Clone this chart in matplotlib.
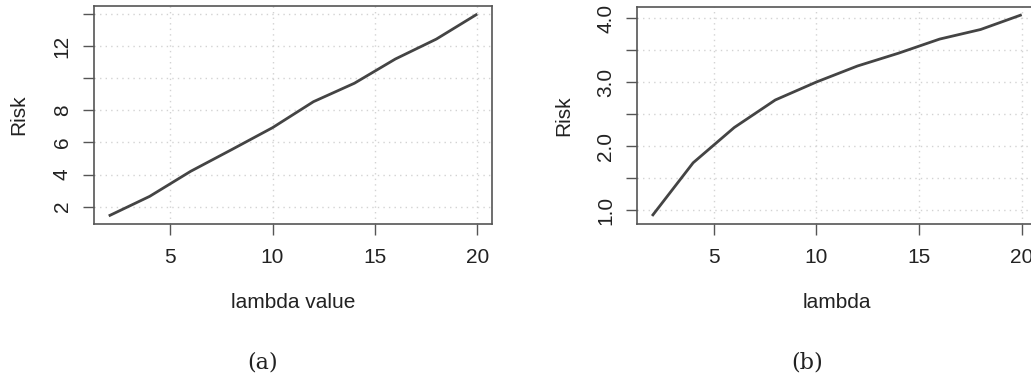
#!/usr/bin/env python3

# two R-style risk curves side by side, (a) and (b) captions below

import numpy as np
import matplotlib
matplotlib.use("Agg")
import matplotlib.pyplot as plt

#-- data
lam = [2, 4, 6, 8, 10, 12, 14, 16, 18, 20]
risk_a = [1.42, 2.64, 4.20, 5.55, 6.92, 8.54, 9.69, 11.20, 12.44, 14.0]
risk_b = [0.91, 1.74, 2.29, 2.72, 3.00, 3.25, 3.45, 3.67, 3.82, 4.05]

xticks = [5, 10, 15, 20]
yticks_a = [2, 4, 6, 8, 10, 12, 14]
ylabels_a = ["2", "4", "6", "8", "", "12", ""]
yticks_b = [1.0, 1.5, 2.0, 2.5, 3.0, 3.5, 4.0]
ylabels_b = ["1.0", "", "2.0", "", "3.0", "", "4.0"]

plt.rcParams['font.family'] = ['Liberation Sans', 'DejaVu Sans']

W, H = 1031, 379
fig = plt.figure(figsize=(W / 100, H / 100), dpi=100)
FS = 15


def r_range(v):
    lo, hi = min(v), max(v)
    d = (hi - lo) * 0.04
    return lo - d, hi + d


def panel(rect, y, yt, yl, xlab, cap, cap_x):
    ax = fig.add_axes(rect)
    ax.plot(lam, y, color="#444444", lw=2.0, solid_capstyle="butt")
    ax.set_xlim(*r_range(lam))
    ax.set_ylim(*r_range(y))
    ax.set_xticks(xticks)
    ax.set_xticklabels([str(t) for t in xticks])
    ax.set_yticks(yt)
    ax.set_yticklabels(yl, rotation=90, va="center")
    ax.grid(True, color="#d3d3d3", lw=1.0, linestyle=(0, (1, 3)))
    ax.set_axisbelow(True)
    for s in ax.spines.values():
        s.set_color("#555555")
        s.set_linewidth(1.2)
    ax.tick_params(direction="out", length=8, width=1.0, color="#555555",
                   labelsize=FS, labelcolor="#222222", pad=8)
    ax.tick_params(axis="x", pad=9.5)
    ax.text(0.5, -0.36, xlab, transform=ax.transAxes, ha="center",
            va="center", fontsize=FS, color="#222222")
    ax.set_ylabel("Risk", fontsize=FS, color="#222222")
    fig.text(cap_x / W, 1 - 362 / H, cap, ha="center", va="center",
             fontsize=16, family="DejaVu Serif", color="#222222")
    return ax


ax1 = panel([94 / W, 1 - 224 / H, 398 / W, 218 / H], risk_a, yticks_a,
            ylabels_a, "lambda value", "(a)", 263)
ax1.yaxis.set_label_coords(-0.165, 0.5, transform=ax1.transAxes)

ax2 = panel([637.3 / W, 1 - 224 / H, 399.2 / W, 217.3 / H], risk_b, yticks_b,
            ylabels_b, "lambda", "(b)", 806.7)
ax2.yaxis.set_label_coords(-0.16, 0.5, transform=ax2.transAxes)

fig.savefig("out.png", dpi=100)
